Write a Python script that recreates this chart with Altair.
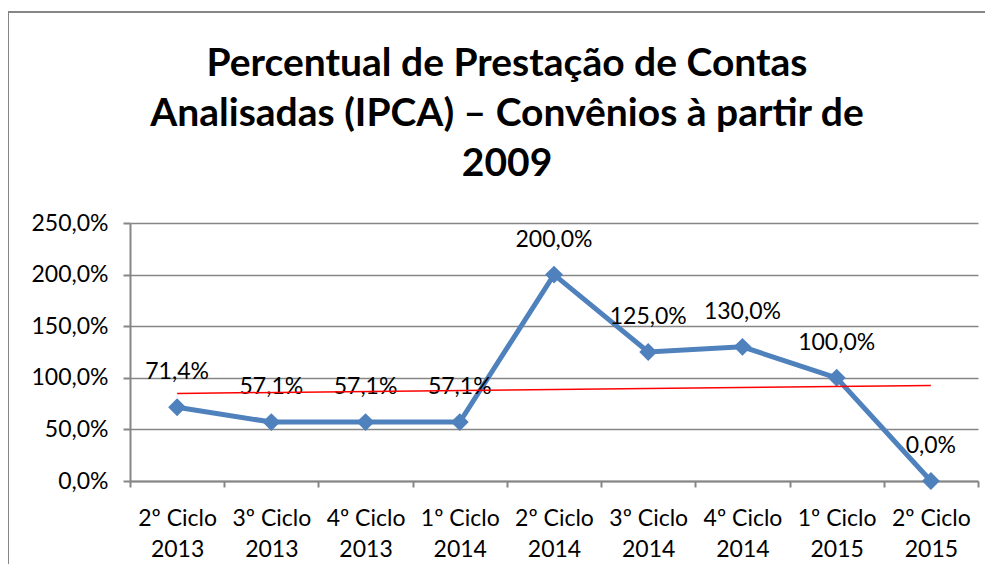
import altair as alt
import pandas as pd

categorias = ["2º Ciclo 2013", "3º Ciclo 2013", "4º Ciclo 2013", "1º Ciclo 2014",
              "2º Ciclo 2014", "3º Ciclo 2014", "4º Ciclo 2014", "1º Ciclo 2015", "2º Ciclo 2015"]
valores = [71.4, 57.1, 57.1, 57.1, 200.0, 125.0, 130.0, 100.0, 0.0]
y_ticks = [0, 50, 100, 150, 200, 250]
titulo = ["Percentual de Prestação de Contas", "Analisadas (IPCA) – Convênios à partir de", "2009"]

df = pd.DataFrame({"categoria": categorias, "valor": valores, "idx": list(range(len(categorias)))})

FONT = "Lato"
BLUE = "#4F81BD"
GRAY = "#868686"
FS = 23

W, H = 848, 258

x_enc = alt.X("categoria:N", sort=categorias, bandPosition=0.5,
              scale=alt.Scale(type="band", paddingInner=0, paddingOuter=0),
              axis=alt.Axis(title=None, labelAngle=0, tickBand="extent", domainColor=GRAY,
                            domainWidth=2, tickColor=GRAY, tickWidth=2, tickSize=6,
                            labelFontSize=FS, labelFont=FONT, labelColor="black",
                            labelPadding=20, labelLineHeight=31, labelBaseline="top",
                            labelExpr="[substring(datum.label,0,lastindexof(datum.label,' ')), substring(datum.label,lastindexof(datum.label,' ')+1)]"))

y_enc = alt.Y("valor:Q", scale=alt.Scale(domain=[0, 250], nice=False),
              axis=alt.Axis(title=None, values=y_ticks, grid=True, gridColor=GRAY, gridWidth=1.5,
                            domainColor=GRAY, domainWidth=2, tickColor=GRAY, tickWidth=2, tickSize=7,
                            labelFontSize=FS, labelFont=FONT, labelColor="black", labelPadding=15,
                            labelExpr="replace(format(datum.value/100, '.1%'), '.', ',')"))

base = alt.Chart(df)

line = base.mark_line(color=BLUE, strokeWidth=5).encode(x=x_enc, y=y_enc)
pts = base.mark_point(shape="diamond", filled=True, color=BLUE, size=320, opacity=1).encode(
    x=alt.X("categoria:N", sort=categorias, bandPosition=0.5), y="valor:Q")

labels = base.transform_calculate(
    rotulo="replace(format(datum.valor/100, '.1%'), '.', ',')"
).mark_text(fontSize=FS, font=FONT, color="black", dy=-35, baseline="middle").encode(
    x=alt.X("categoria:N", sort=categorias, bandPosition=0.5), y="valor:Q", text="rotulo:N")

trend = base.transform_regression("idx", "valor", extent=[0, 8]).mark_line(
    color="#FF0000", strokeWidth=1.5).encode(
    x=alt.X("idx:Q", scale=alt.Scale(domain=[-0.5, 8.5], nice=False, zero=False), axis=None),
    y="valor:Q")

border_top = base.mark_rule(color=GRAY, strokeWidth=2).encode(
    x=alt.value(-122), x2=alt.value(900), y=alt.value(-211))
border_left = base.mark_rule(color=GRAY, strokeWidth=2).encode(
    x=alt.value(-122), y=alt.value(-211), y2=alt.value(400))

main = alt.layer(line, pts, labels).resolve_scale(x="shared")

chart = alt.layer(border_top, border_left, main, trend).resolve_scale(x="independent").properties(
    width=W, height=H,
    title=alt.TitleParams(text=titulo, font=FONT, fontSize=39, fontWeight="bold", color="black",
                          anchor="middle", frame="group", lineHeight=50, offset=-173, dx=-47),
    autosize=alt.AutoSizeParams(type="none"),
    padding={"left": 122, "top": 215, "right": 7, "bottom": 83}
).configure_view(stroke=None)

chart.save("out.html", embed_options={"renderer": "svg", "actions": False})
